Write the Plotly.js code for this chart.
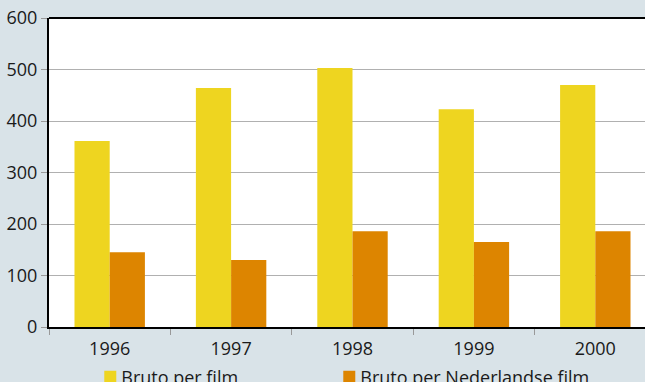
<!DOCTYPE html>
<html><head><meta charset="utf-8">
<script src="https://cdn.plot.ly/plotly-3.0.1.min.js"></script>
<style>html,body{margin:0;padding:0;overflow:hidden;background:#d9e3e8;width:645px;height:382px}</style>
</head><body><div id="chart"></div>
<script>
const years = ['1996','1997','1998','1999','2000'];
const brutoPerFilm = [361, 464, 503, 423, 470];
const brutoPerNLFilm = [145, 130, 186, 165, 186];
const seriesNames = ['Bruto per film', 'Bruto per Nederlandse film'];
const yTicks = [0,100,200,300,400,500,600];

const font = {family: 'Open Sans, Liberation Sans, sans-serif', size: 18, color: '#1a1a1a'};
Plotly.newPlot('chart', [
  {type:'bar', x: years, y: brutoPerFilm, name: seriesNames[0], marker:{color:'#eed520'}},
  {type:'bar', x: years, y: brutoPerNLFilm, name: seriesNames[1], marker:{color:'#dd8500'}}
], {
  width: 660, height: 382,
  margin: {l:49, r:4, t:18, b:55, autoexpand:false},
  paper_bgcolor:'#d9e3e8', plot_bgcolor:'#ffffff',
  font: font,
  barmode:'group', bargap:0.42, bargroupgap:0,
  xaxis: {type:'category', showline:true, linecolor:'#000', linewidth:2, ticks:'outside', tickson:'boundaries',
          ticklen:6, tickcolor:'#999', tickfont:font, showgrid:false, fixedrange:true, automargin:false,
          ticklabelstandoff:4},
  yaxis: {range:[0,600], tickvals:yTicks, showline:true, linecolor:'#000', linewidth:2, ticks:'outside', ticklen:6,
          tickcolor:'#999', gridcolor:'#b0b0b0', gridwidth:1, zeroline:false, tickfont:font, fixedrange:true, automargin:false},
  shapes: [{type:'line', xref:'paper', yref:'paper', x0:0, x1:1, y0:1, y1:1, line:{color:'#000', width:2}}],
  showlegend:true,
  legend: {orientation:'h', x:0.068, xanchor:'left', y:-0.162, yanchor:'middle', font:font,
           itemwidth:30, entrywidth:194, entrywidthmode:'pixels', bgcolor:'rgba(0,0,0,0)', traceorder:'normal'}
}, {displayModeBar:false, staticPlot:true}).then(function(){
  document.querySelectorAll('.legend [clip-path]').forEach(function(e){ e.removeAttribute('clip-path'); });
  document.querySelectorAll('.legend .legendtext').forEach(function(t){
    t.setAttribute('x', parseFloat(t.getAttribute('x')) - 9);
  });
});
</script></body></html>
